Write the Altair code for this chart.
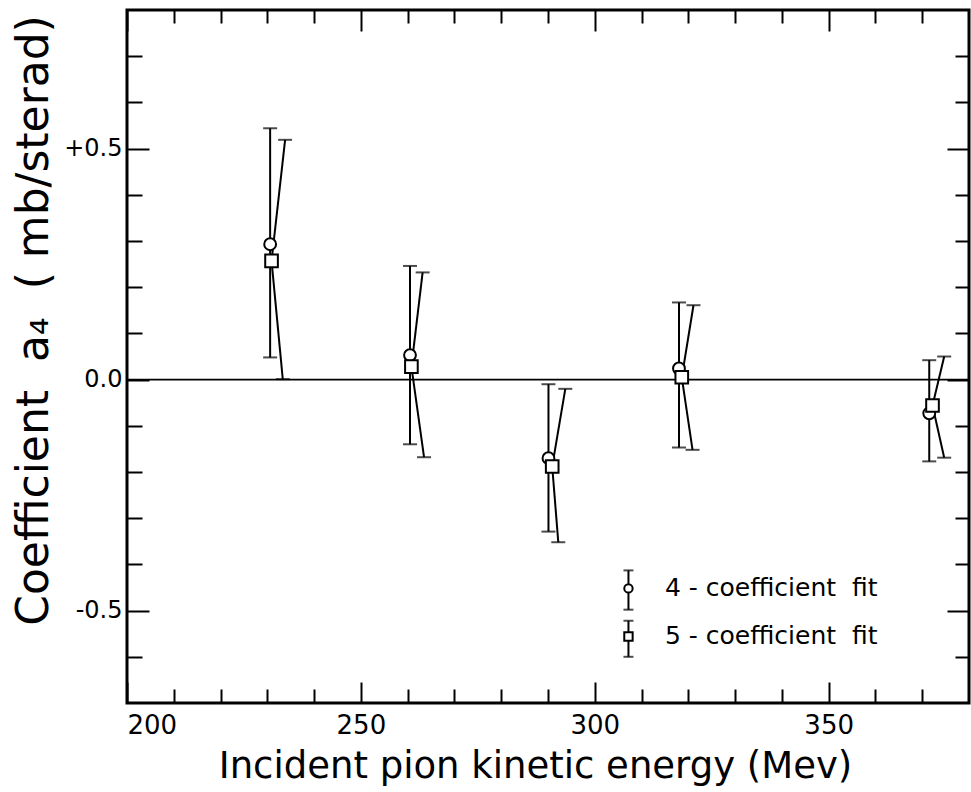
import altair as alt
import pandas as pd

FONT = "DejaVu Sans"

# ---------------- data ----------------
# 4-coefficient fit (circles, vertical error bars)
energy_4c = [230.6, 260.5, 290.1, 318.0, 371.5]
a4_4c = [0.293, 0.053, -0.170, 0.024, -0.073]
a4_4c_upper = [0.544, 0.246, -0.010, 0.167, 0.042]
a4_4c_lower = [0.048, -0.140, -0.329, -0.147, -0.177]

# 5-coefficient fit (squares, slanted error bars drawn to offset caps)
energy_5c = [230.9, 260.8, 290.9, 318.6, 372.2]
a4_5c = [0.257, 0.028, -0.188, 0.005, -0.056]
a4_5c_upper = [0.519, 0.232, -0.020, 0.161, 0.050]
a4_5c_lower = [0.001, -0.168, -0.352, -0.152, -0.169]
energy_5c_upper_cap = [233.8, 263.2, 293.7, 321.1, 374.7]
energy_5c_lower_cap = [233.3, 263.5, 292.2, 320.9, 374.7]

# axis ticks
x_major = [200, 250, 300, 350]
x_minor = [210, 220, 230, 240, 260, 270, 280, 290, 310, 320, 330, 340, 360, 370]
y_major = [-0.5, 0.0, 0.5]
y_minor = [-0.6, -0.4, -0.3, -0.2, -0.1, 0.1, 0.2, 0.3, 0.4, 0.6, 0.7]
zero_level = [0.0]

# legend (drawn inside the plot, in data coordinates)
legend_labels = ["4\u00a0-\u00a0coefficient\u00a0\u00a0fit", "5\u00a0-\u00a0coefficient\u00a0\u00a0fit"]
legend_shapes = ["circle", "square"]
legend_energy = [307.2, 307.2]
legend_text_energy = [315.0, 315.0]
legend_a4 = [-0.452, -0.556]
legend_upper = [-0.413, -0.522]
legend_lower = [-0.498, -0.600]

# ---------------- tables ----------------
df4 = pd.DataFrame({"E": energy_4c, "a": a4_4c, "hi": a4_4c_upper, "lo": a4_4c_lower})
df5 = pd.DataFrame({"E": energy_5c, "a": a4_5c, "hi": a4_5c_upper, "lo": a4_5c_lower,
                    "Ehi": energy_5c_upper_cap, "Elo": energy_5c_lower_cap})
caps = pd.DataFrame({
    "E": energy_4c + energy_4c + energy_5c_upper_cap + energy_5c_lower_cap,
    "a": a4_4c_upper + a4_4c_lower + a4_5c_upper + a4_5c_lower,
})
dfz = pd.DataFrame({"a": zero_level})
dleg = pd.DataFrame({"E": legend_energy, "Et": legend_text_energy, "a": legend_a4,
                     "hi": legend_upper, "lo": legend_lower, "label": legend_labels,
                     "shape": legend_shapes})
leg_caps = pd.DataFrame({"E": legend_energy + legend_energy, "a": legend_upper + legend_lower})

xs = alt.Scale(domain=[200, 380], nice=False, zero=False)
ys = alt.Scale(domain=[-0.7, 0.8], nice=False, zero=False)


def mk_axis(orient, values, size, labels=False, title=None, **extra):
    kw = dict(orient=orient, values=values, tickSize=size, offset=-size, tickWidth=2,
              tickColor="black", domain=False, grid=False, labels=labels, ticks=True)
    if labels:
        kw.update(labelFont=FONT, labelColor="black")
    kw["title"] = title
    kw.update(extra)
    return alt.Axis(**kw)


ax_bottom_major = mk_axis(
    "bottom", x_major, 21, labels=True, title="Incident pion kinetic energy (Mev)",
    labelFontSize=26, labelPadding=9, labelFlush=True,
    titleFont=FONT, titleFontSize=37, titleFontWeight="normal", titleColor="black",
    titleX=408, titleY=95, titleBaseline="alphabetic", titleAlign="center")
ax_left_major = mk_axis(
    "left", y_major, 22, labels=True, title="Coefficient\u00a0\u00a0a\u2084\u00a0\u00a0(\u00a0mb/sterad)",
    labelFontSize=24, labelPadding=5,
    labelExpr="datum.value > 0 ? '+0.5' : (datum.value < 0 ? '-0.5' : '0.0')",
    titleFont=FONT, titleFontSize=44, titleFontWeight="normal", titleColor="black",
    titleAngle=270, titleX=-102, titleY=310, titleBaseline="alphabetic", titleAlign="center")
ax_bottom_minor = mk_axis("bottom", x_minor, 14)
ax_left_minor = mk_axis("left", y_minor, 15)
ax_top_major = mk_axis("top", x_major, 21)
ax_right_major = mk_axis("right", y_major, 22)
ax_top_minor = mk_axis("top", x_minor, 13)
ax_right_minor = mk_axis("right", y_minor, 14)

LW = 2

zero_rule = alt.Chart(dfz).mark_rule(color="black", strokeWidth=1.6).encode(
    y=alt.Y("a:Q", scale=ys, axis=None))

bars4 = alt.Chart(df4).mark_rule(color="black", strokeWidth=LW).encode(
    x=alt.X("E:Q", scale=xs, axis=ax_bottom_major),
    y=alt.Y("lo:Q", scale=ys, axis=ax_left_major),
    y2="hi:Q")

slant_up = alt.Chart(df5).mark_rule(color="black", strokeWidth=LW).encode(
    x=alt.X("E:Q", scale=xs, axis=ax_bottom_minor),
    x2="Ehi:Q",
    y=alt.Y("a:Q", scale=ys, axis=ax_left_minor),
    y2="hi:Q")

slant_down = alt.Chart(df5).mark_rule(color="black", strokeWidth=LW).encode(
    x=alt.X("E:Q", scale=xs, axis=ax_top_major),
    x2="Elo:Q",
    y=alt.Y("a:Q", scale=ys, axis=ax_right_major),
    y2="lo:Q")

cap_marks = alt.Chart(caps).mark_tick(color="black", orient="horizontal", size=14,
                                      thickness=LW).encode(
    x=alt.X("E:Q", scale=xs, axis=ax_top_minor),
    y=alt.Y("a:Q", scale=ys, axis=ax_right_minor))

circles = alt.Chart(df4).mark_point(shape="circle", filled=True, fill="white", stroke="black",
                                    strokeWidth=LW, size=140, opacity=1).encode(
    x=alt.X("E:Q", scale=xs, axis=None),
    y=alt.Y("a:Q", scale=ys, axis=None))

squares = alt.Chart(df5).mark_point(shape="square", filled=True, fill="white", stroke="black",
                                    strokeWidth=LW, size=160, opacity=1).encode(
    x=alt.X("E:Q", scale=xs, axis=None),
    y=alt.Y("a:Q", scale=ys, axis=None))

leg_bars = alt.Chart(dleg).mark_rule(color="black", strokeWidth=LW).encode(
    x=alt.X("E:Q", scale=xs, axis=None),
    y=alt.Y("lo:Q", scale=ys, axis=None),
    y2="hi:Q")

leg_cap_marks = alt.Chart(leg_caps).mark_tick(color="black", orient="horizontal", size=10,
                                              thickness=LW).encode(
    x=alt.X("E:Q", scale=xs, axis=None),
    y=alt.Y("a:Q", scale=ys, axis=None))

leg_symbols = alt.Chart(dleg).mark_point(filled=True, fill="white", stroke="black",
                                         strokeWidth=LW, size=70, opacity=1).encode(
    x=alt.X("E:Q", scale=xs, axis=None),
    y=alt.Y("a:Q", scale=ys, axis=None),
    shape=alt.Shape("shape:N", scale=alt.Scale(domain=["circle", "square"],
                                               range=["circle", "square"]), legend=None))

leg_text = alt.Chart(dleg).mark_text(font=FONT, fontSize=25, align="left", baseline="middle",
                                     color="black").encode(
    x=alt.X("Et:Q", scale=xs, axis=None),
    y=alt.Y("a:Q", scale=ys, axis=None),
    text="label:N")

chart = alt.layer(
    zero_rule, bars4, slant_up, slant_down, cap_marks, circles, squares,
    leg_bars, leg_cap_marks, leg_symbols, leg_text
).resolve_axis(x="independent", y="independent").properties(
    width=842, height=693,
    autosize=alt.AutoSizeParams(type="none"),
    padding={"left": 127, "top": 10, "right": 2, "bottom": 89},
    background="white",
).configure_view(stroke="black", strokeWidth=3)

chart.save("out.html", embed_options={"renderer": "svg", "actions": False})
